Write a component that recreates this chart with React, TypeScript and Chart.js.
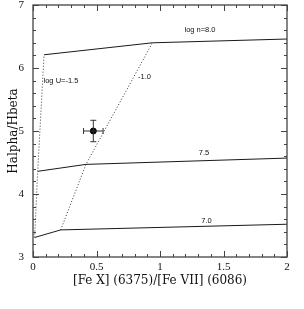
import React, { useEffect, useRef } from "react";
import { Chart, registerables } from "chart.js";

Chart.register(...registerables);

// Density grid lines (log n) : x = [Fe X]/[Fe VII], y = Halpha/Hbeta
const densityLabels = ["log n=8.0", "7.5", "7.0"];
const n80X = [0.087, 0.94, 2.0];
const n80Y = [6.21, 6.4, 6.46];
const n75X = [0.037, 0.417, 2.0];
const n75Y = [4.36, 4.47, 4.57];
const n70X = [0.013, 0.218, 2.0];
const n70Y = [3.31, 3.43, 3.52];

// Ionization parameter lines (log U), dotted
const ionLabels = ["log U=-1.5", "-1.0"];
const u15X = [0.013, 0.037, 0.087];
const u15Y = [3.31, 4.36, 6.21];
const u10X = [0.218, 0.417, 0.94];
const u10Y = [3.43, 4.47, 6.4];

// Observed point with errors
const obsX = [0.475];
const obsY = [5.0];
const obsXErr = [0.077];
const obsYErr = [0.17];

// Label anchor positions (data coords)
const densityLabelX = [1.315, 1.346, 1.366];
const densityLabelY = [6.6, 4.645, 3.578];
const ionLabelX = [0.22, 0.878];
const ionLabelY = [5.8, 5.86];

// Axis ticks
const xTicks = [0, 0.5, 1, 1.5, 2];
const yTicks = [3, 4, 5, 6, 7];

const pts = (xs: number[], ys: number[]) => xs.map((x, i) => ({ x, y: ys[i] }));

const decorPlugin = {
  id: "decor",
  afterDatasetsDraw(chart: any) {
    const { ctx, chartArea: a, scales } = chart;
    const xs = scales.x;
    const ys = scales.y;
    ctx.save();
    // frame
    ctx.strokeStyle = "#444";
    ctx.lineWidth = 1.3;
    ctx.strokeRect(a.left, a.top, a.right - a.left, a.bottom - a.top);
    // ticks
    ctx.lineWidth = 1;
    ctx.beginPath();
    for (let i = 0; i <= 20; i++) {
      const v = i / 10;
      const major = i % 5 === 0;
      const len = major ? 6 : 3;
      const px = Math.round(xs.getPixelForValue(v)) + 0.5;
      ctx.moveTo(px, a.bottom);
      ctx.lineTo(px, a.bottom - len);
      ctx.moveTo(px, a.top);
      ctx.lineTo(px, a.top + len);
    }
    for (let i = 0; i <= 20; i++) {
      const v = 3 + i * 0.2;
      const major = i % 5 === 0;
      const len = major ? 6 : 3;
      const py = Math.round(ys.getPixelForValue(v)) + 0.5;
      ctx.moveTo(a.left, py);
      ctx.lineTo(a.left + len, py);
      ctx.moveTo(a.right, py);
      ctx.lineTo(a.right - len, py);
    }
    ctx.stroke();

    // error bars
    ctx.strokeStyle = "#333";
    ctx.lineWidth = 1;
    obsX.forEach((x, i) => {
      const y = obsY[i];
      const x0 = xs.getPixelForValue(x - obsXErr[i]);
      const x1 = xs.getPixelForValue(x + obsXErr[i]);
      const yc = ys.getPixelForValue(y);
      const xc = xs.getPixelForValue(x);
      const y0 = ys.getPixelForValue(y - obsYErr[i]);
      const y1 = ys.getPixelForValue(y + obsYErr[i]);
      ctx.beginPath();
      ctx.moveTo(x0, yc);
      ctx.lineTo(x1, yc);
      ctx.moveTo(xc, y0);
      ctx.lineTo(xc, y1);
      ctx.moveTo(x0, yc - 3);
      ctx.lineTo(x0, yc + 3);
      ctx.moveTo(x1, yc - 3);
      ctx.lineTo(x1, yc + 3);
      ctx.moveTo(xc - 3, y0);
      ctx.lineTo(xc + 3, y0);
      ctx.moveTo(xc - 3, y1);
      ctx.lineTo(xc + 3, y1);
      ctx.stroke();
    });

    // labels
    ctx.fillStyle = "#111";
    ctx.font = "7.5px 'Liberation Sans', Arial, sans-serif";
    ctx.textAlign = "center";
    ctx.textBaseline = "middle";
    densityLabels.forEach((t, i) => {
      ctx.fillText(t, xs.getPixelForValue(densityLabelX[i]), ys.getPixelForValue(densityLabelY[i]));
    });
    ionLabels.forEach((t, i) => {
      ctx.fillText(t, xs.getPixelForValue(ionLabelX[i]), ys.getPixelForValue(ionLabelY[i]));
    });
    ctx.restore();
  },
};

export default function App() {
  const ref = useRef<HTMLCanvasElement | null>(null);
  useEffect(() => {
    if (!ref.current) return;
    const solid = { borderColor: "#1a1a1a", borderWidth: 1, pointRadius: 0, showLine: true, fill: false };
    const dotted = { ...solid, borderColor: "#333", borderDash: [1, 2] };
    const chart = new Chart(ref.current, {
      type: "scatter",
      data: {
        datasets: [
          { ...solid, label: densityLabels[0], data: pts(n80X, n80Y) },
          { ...solid, label: densityLabels[1], data: pts(n75X, n75Y) },
          { ...solid, label: densityLabels[2], data: pts(n70X, n70Y) },
          { ...dotted, label: ionLabels[0], data: pts(u15X, u15Y) },
          { ...dotted, label: ionLabels[1], data: pts(u10X, u10Y) },
          {
            label: "observed",
            data: pts(obsX, obsY),
            pointRadius: 3,
            pointBackgroundColor: "#000",
            pointBorderColor: "#000",
            showLine: false,
          },
        ],
      },
      options: {
        animation: false,
        responsive: true,
        maintainAspectRatio: false,
        layout: { padding: { top: 4, right: 17, left: 0, bottom: 0 } },
        plugins: { legend: { display: false }, tooltip: { enabled: false } },
        scales: {
          x: {
            type: "linear",
            min: 0,
            max: 2,
            afterFit: (s: any) => {
              s.height = 52;
              s.paddingLeft = 0;
              s.paddingRight = 0;
            },
            afterBuildTicks: (s: any) => {
              s.ticks = xTicks.map((v) => ({ value: v }));
            },
            grid: { display: false, drawTicks: false },
            border: { display: false },
            ticks: {
              color: "#111",
              padding: 4,
              maxRotation: 0,
              font: { family: "'Liberation Serif', serif", size: 11 },
              callback: (v: any) => String(v),
            },
            title: {
              display: true,
              text: "[Fe X] (6375)/[Fe VII] (6086)",
              color: "#111",
              font: { family: "'DejaVu Serif', serif", size: 12 },
              padding: { top: 0, bottom: 21 },
            },
          },
          y: {
            type: "linear",
            min: 3,
            max: 7,
            afterFit: (s: any) => {
              s.width = 33;
              s.paddingTop = 0;
              s.paddingBottom = 0;
            },
            afterBuildTicks: (s: any) => {
              s.ticks = yTicks.map((v) => ({ value: v }));
            },
            grid: { display: false, drawTicks: false },
            border: { display: false },
            ticks: {
              color: "#111",
              padding: 9,
              font: { family: "'Liberation Serif', serif", size: 11 },
              callback: (v: any) => String(v),
            },
            title: {
              display: true,
              text: "Halpha/Hbeta",
              color: "#111",
              font: { family: "'DejaVu Serif', serif", size: 12 },
              padding: { top: 7, bottom: 0 },
            },
          },
        },
      },
      plugins: [decorPlugin],
    } as any);
    return () => chart.destroy();
  }, []);
  return (
    <div style={{ position: "fixed", left: 0, top: 0, width: 304, height: 309, background: "#fff" }}>
      <canvas ref={ref} />
    </div>
  );
}
